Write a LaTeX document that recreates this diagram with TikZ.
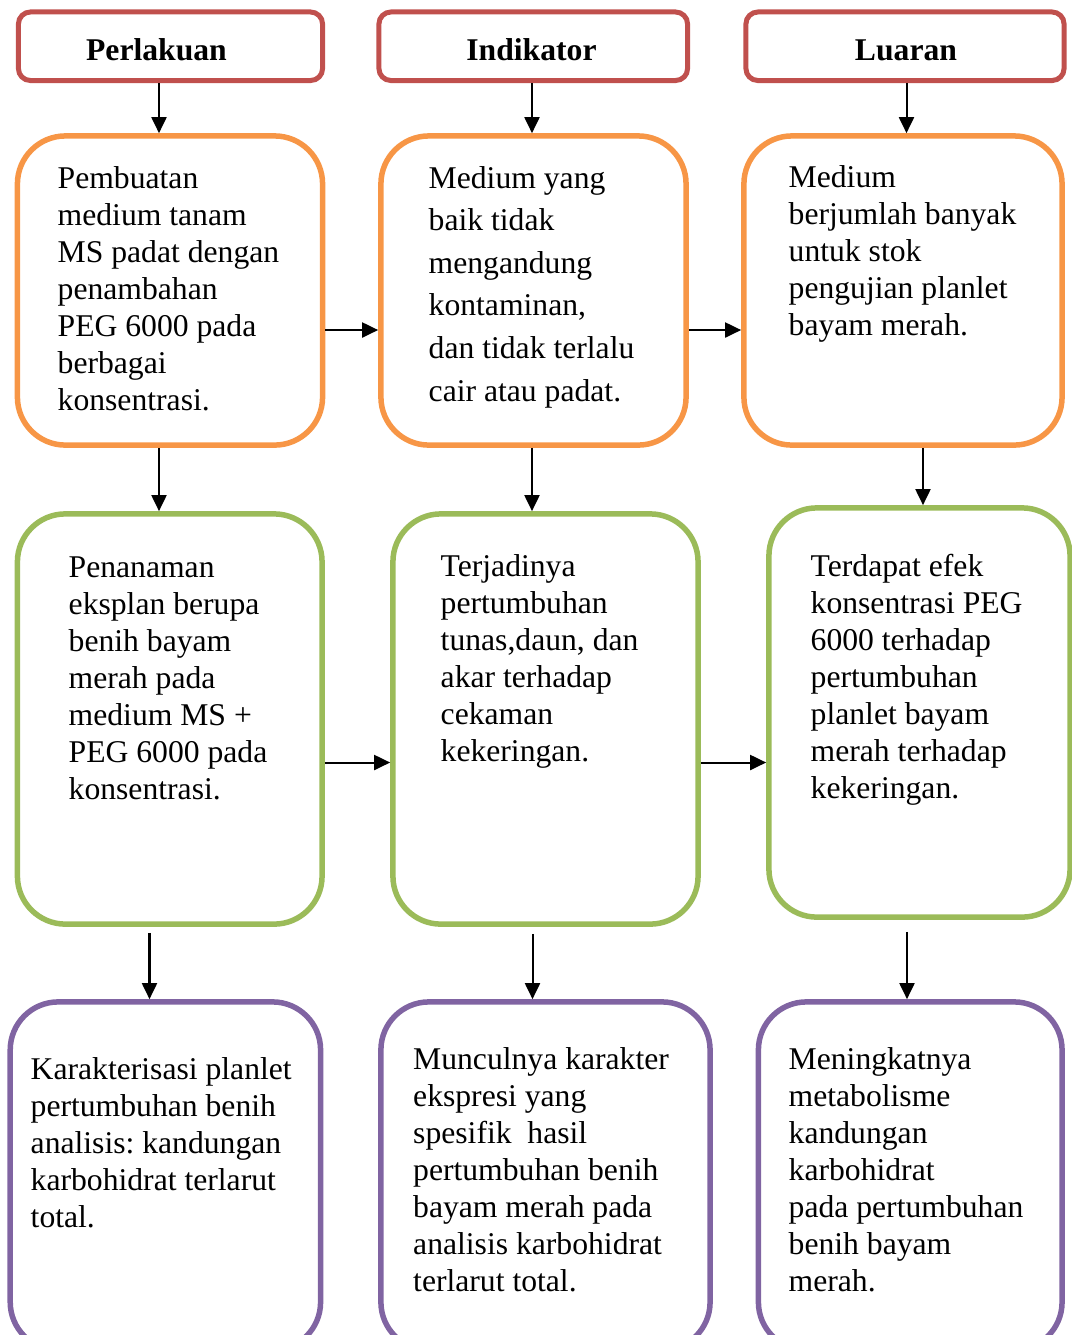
\documentclass[tikz,border=0pt]{standalone}
\usepackage{fontspec}
\setmainfont{Liberation Serif}
\frenchspacing
\usetikzlibrary{arrows.meta}
\definecolor{headred}{HTML}{C0504D}
\definecolor{steporange}{HTML}{F79646}
\definecolor{stepgreen}{HTML}{9BBB59}
\definecolor{steppurple}{HTML}{8064A2}
\tikzset{
    box/.style={draw, rectangle, line width=0.055cm, inner sep=0pt, rounded corners=0.48cm},
    headbox/.style={box, draw=headred, line width=0.05cm, rounded corners=0.12cm, minimum height=0.685cm},
    orangebox/.style={box, draw=steporange, minimum height=3.09cm},
    greenbox/.style={box, draw=stepgreen, minimum height=4.1cm},
    purplebox/.style={box, draw=steppurple, minimum height=3.48cm},
    headtext/.style={anchor=base, inner sep=0pt, font=\fontsize{9pt}{10.5pt}\selectfont\bfseries},
    % base of a multi-line node = baseline of its last line
    bodytext/.style={anchor=base west, align=left, inner sep=0pt, font=\fontsize{9pt}{10.5pt}\selectfont},
    arr/.style={-{Triangle[length=0.16cm,width=0.15cm]}, line width=0.02cm}
}

\begin{document}
\begin{tikzpicture}[x=0.01cm, y=-0.01cm]
    \useasboundingbox (0,0) rectangle (1072,1335);
    \clip (0,0) rectangle (1072,1335);
    % header row
    \node[headbox, minimum width=3.04cm] (h1) at (170.5,46.25) {};
    \node[headbox, minimum width=3.085cm] (h2) at (533.25,46.25) {};
    \node[headbox, minimum width=3.18cm] (h3) at (905,46.25) {};
    \node[headtext] (h1txt) at (156.5,60) {Perlakuan};
    \node[headtext] (h2txt) at (531.5,60) {Indikator};
    \node[headtext] (h3txt) at (906,60) {Luaran};
    % orange row
    \node[orangebox, minimum width=3.05cm] (o1) at (170,290.5) {};
    \node[orangebox, minimum width=3.05cm] (o2) at (533.5,290.5) {};
    \node[orangebox, minimum width=3.18cm] (o3) at (903,290.5) {};
    \node[bodytext] (o1txt) at (57,410.5) {Pembuatan\\medium tanam\\MS padat dengan\\penambahan\\PEG 6000 pada\\berbagai\\konsentrasi.};
    \node[bodytext, font=\fontsize{9pt}{12.1pt}\selectfont] (o2txt) at (428,401) {Medium yang\\baik tidak\\mengandung\\kontaminan,\\dan tidak terlalu\\cair atau padat.};
    \node[bodytext] (o3txt) at (788,335.5) {Medium\\berjumlah banyak\\untuk stok\\pengujian planlet\\bayam merah.};
    % green row
    \node[greenbox, minimum width=3.045cm] (g1) at (169.75,719) {};
    \node[greenbox, minimum width=3.05cm] (g2) at (545.5,719) {};
    \node[greenbox, minimum width=3.01cm, minimum height=4.09cm] (g3) at (919.5,712.5) {};
    \node[bodytext] (g1txt) at (68,799.5) {Penanaman\\eksplan berupa\\benih bayam\\merah pada\\medium MS +\\PEG 6000 pada\\konsentrasi.};
    \node[bodytext] (g2txt) at (440,761.5) {Terjadinya\\pertumbuhan\\tunas,daun, dan\\akar terhadap\\cekaman\\kekeringan.};
    \node[bodytext] (g3txt) at (810,798.5) {Terdapat efek\\konsentrasi PEG\\6000 terhadap\\pertumbuhan\\planlet bayam\\merah terhadap\\kekeringan.};
    % purple row
    \node[purplebox, minimum width=3.102cm] (p1) at (165.4,1176) {};
    \node[purplebox, minimum width=3.29cm] (p2) at (545.5,1176) {};
    \node[purplebox, minimum width=3.035cm] (p3) at (910.25,1176) {};
    \node[bodytext] (p1txt) at (30,1227.5) {Karakterisasi planlet\\pertumbuhan benih\\analisis: kandungan\\karbohidrat terlarut\\total.};
    \node[bodytext] (p2txt) at (412.5,1291) {Munculnya karakter\\ekspresi yang\\spesifik\ \ hasil\\pertumbuhan benih\\bayam merah pada\\analisis karbohidrat\\terlarut total.};
    \node[bodytext] (p3txt) at (788,1291) {Meningkatnya\\metabolisme\\kandungan\\karbohidrat\\pada pertumbuhan\\benih bayam\\merah.};
    % arrows
    \draw[arr] (h1.south -| 159,0) -- (o1.north -| 159,0);
    \draw[arr] (h2.south -| 532,0) -- (o2.north -| 532,0);
    \draw[arr] (h3.south -| 906.5,0) -- (o3.north -| 906.5,0);
    \draw[arr] (o1.east |- 0,330) -- (o2.west |- 0,330);
    \draw[arr] (o2.east |- 0,330) -- (o3.west |- 0,330);
    \draw[arr] (o1.south -| 159,0) -- (g1.north -| 159,0);
    \draw[arr] (o2.south -| 532,0) -- (g2.north -| 532,0);
    \draw[arr] (o3.south -| 923,0) -- (g3.north -| 923,0);
    \draw[arr] (g1.east |- 0,762.5) -- (g2.west |- 0,762.5);
    \draw[arr] (g2.east |- 0,762.5) -- (g3.west |- 0,762.5);
    \draw[arr, shorten <=0.06cm] (g1.south -| 149.5,0) -- (p1.north -| 149.5,0);
    \draw[arr, shorten <=0.07cm] (g2.south -| 532.5,0) -- (p2.north -| 532.5,0);
    \draw[arr, shorten <=0.12cm] (g3.south -| 907,0) -- (p3.north -| 907,0);
\end{tikzpicture}
\end{document}
